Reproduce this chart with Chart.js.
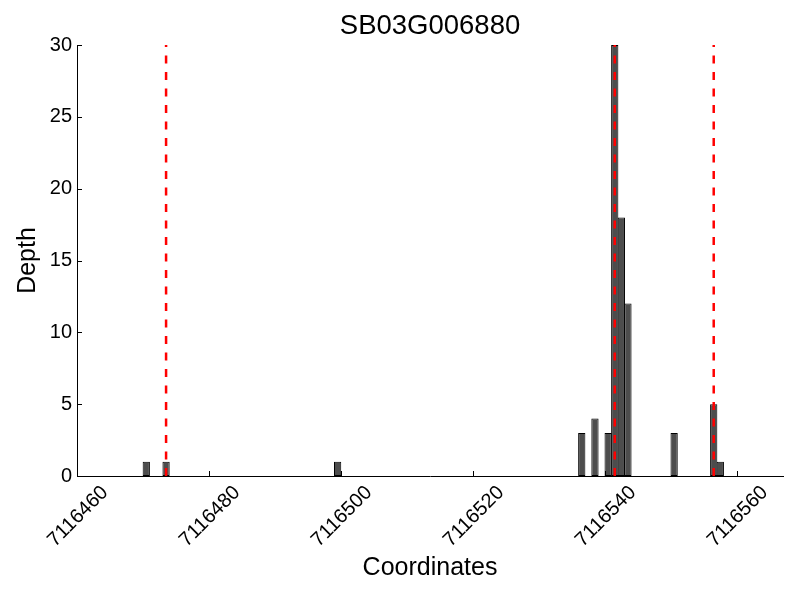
<!DOCTYPE html>
<html><head><meta charset="utf-8">
<script src="https://cdn.jsdelivr.net/npm/chart.js@4/dist/chart.umd.min.js"></script>
<style>html,body{margin:0;padding:0;background:#fff}#wrap{width:800px;height:600px}</style>
</head><body><div id="wrap"><canvas id="c" width="800" height="600"></canvas></div>
<script>
const chartTitle = 'SB03G006880';
const xLabel = 'Coordinates';
const yLabel = 'Depth';
const positions = [7116470.5, 7116473.5, 7116499.5, 7116536.5, 7116538.5, 7116540.5, 7116541.5, 7116542.5, 7116543.5, 7116550.5, 7116556.5, 7116557.5];
const depths = [1, 1, 1, 3, 4, 3, 30, 18, 12, 3, 5, 1];
const markerLines = [7116473.5, 7116541.5, 7116556.5];
const xRange = [7116460, 7116567];
const yRange = [0, 30];
const xTickStep = 20;
const yTickStep = 5;

const FONT = "'Liberation Sans', Arial, Helvetica, sans-serif";
Chart.defaults.font.family = FONT;
Chart.defaults.color = '#000';

const barData = positions.map((p, i) => ({x: p, y: depths[i]}));
const lineSets = markerLines.map(m => ({
  type: 'line',
  data: [{x: m, y: yRange[0]}, {x: m, y: yRange[1]}],
  borderColor: '#ff0000',
  borderWidth: 2.5,
  borderDash: [8, 8.5],
  pointRadius: 0,
  fill: false,
  order: 0,
  xAxisID: 'x', yAxisID: 'y'
}));

const inwardTicks = {
  id: 'inwardTicks',
  afterDatasetsDraw(chart) {
    const {ctx, chartArea: a} = chart;
    const x = chart.scales.x, y = chart.scales.y;
    ctx.save();
    ctx.strokeStyle = '#000';
    ctx.lineWidth = 1;
    ctx.beginPath();
    x.ticks.forEach(t => {
      const px = Math.round(x.getPixelForValue(t.value)) + 0.5;
      ctx.moveTo(px, a.bottom); ctx.lineTo(px, a.bottom - 5);
    });
    y.ticks.forEach(t => {
      const py = Math.round(y.getPixelForValue(t.value)) + 0.5;
      ctx.moveTo(a.left, py); ctx.lineTo(a.left + 5, py);
    });
    ctx.stroke();
    ctx.restore();
  }
};

new Chart(document.getElementById('c'), {
  type: 'bar',
  data: {
    datasets: [{
      type: 'bar',
      data: barData,
      backgroundColor: '#4d4d4d',
      borderColor: '#000',
      borderWidth: 1,
      borderSkipped: false,
      barPercentage: 1.1,
      categoryPercentage: 1,
      order: 1,
      xAxisID: 'x', yAxisID: 'y'
    }, ...lineSets]
  },
  options: {
    responsive: false,
    animation: false,
    devicePixelRatio: 1,
    layout: {padding: {left: 0, right: 17, top: 0, bottom: 0}},
    plugins: {legend: {display: false}, tooltip: {enabled: false}, title: {display: false}},
    scales: {
      x: {
        type: 'linear', position: 'bottom',
        min: xRange[0], max: xRange[1], offset: false,
        grid: {display: false, drawTicks: false},
        border: {display: true, color: '#000', width: 1},
        ticks: {
          stepSize: xTickStep, includeBounds: false, autoSkip: false,
          minRotation: 45, maxRotation: 45, padding: 5, labelOffset: 28,
          font: {size: 20}, color: '#000',
          callback: v => String(v)
        },
        title: {display: true, text: xLabel, font: {size: 25}, color: '#000', padding: {top: 0, bottom: 17}},
        afterFit: s => { s.height = 124; }
      },
      x2: {
        type: 'linear', position: 'top', display: true,
        min: xRange[0], max: xRange[1],
        grid: {display: false, drawTicks: false},
        border: {display: false},
        ticks: {display: false},
        title: {display: true, text: chartTitle, font: {size: 27.5}, color: '#000', padding: {top: 10, bottom: 0}},
        afterFit: s => { s.height = 45; }
      },
      y: {
        type: 'linear', position: 'left',
        min: yRange[0], max: yRange[1],
        grid: {display: false, drawTicks: false},
        border: {display: true, color: '#000', width: 1},
        ticks: {stepSize: yTickStep, padding: 5, font: {size: 20}, color: '#000'},
        title: {display: true, text: yLabel, font: {size: 25}, color: '#000', padding: {top: 13, bottom: 0}},
        afterFit: s => { s.width = 77; }
      }
    }
  },
  plugins: [inwardTicks]
});
</script>
</body></html>
